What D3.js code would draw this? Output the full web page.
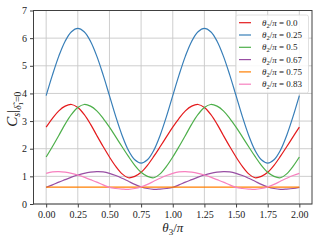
<!DOCTYPE html>
<html>
<head>
<meta charset="utf-8">
<script src="https://cdn.jsdelivr.net/npm/d3@7"></script>
<style>
  html, body { margin: 0; padding: 0; background: #fff; }
  svg { display: block; }
  text { font-family: "Liberation Serif", "DejaVu Serif", serif; }
</style>
</head>
<body>
<svg width="320" height="240"></svg>
<script>
// theta3 / pi sample points
var theta3 = [0.00,0.05,0.10,0.15,0.20,0.25,0.30,0.35,0.40,0.45,0.50,0.55,0.60,0.65,0.70,0.75,0.80,0.85,0.90,0.95,
              1.00,1.05,1.10,1.15,1.20,1.25,1.30,1.35,1.40,1.45,1.50,1.55,1.60,1.65,1.70,1.75,1.80,1.85,1.90,1.95,2.00];

// C_s for each theta2 / pi
var cs00 = [2.78,3.10,3.37,3.54,3.60,3.49,3.24,2.89,2.48,2.08,1.70,1.36,1.09,0.95,1.00,1.15,1.40,1.72,2.07,2.43,
            2.78,3.10,3.37,3.54,3.60,3.49,3.24,2.89,2.48,2.08,1.70,1.36,1.09,0.95,1.00,1.15,1.40,1.72,2.07,2.43,2.78];
var cs025 = [3.92,4.67,5.35,5.89,6.23,6.35,6.23,5.89,5.35,4.67,3.92,3.16,2.48,1.94,1.60,1.48,1.60,1.94,2.48,3.16,
             3.92,4.67,5.35,5.89,6.23,6.35,6.23,5.89,5.35,4.67,3.92,3.16,2.48,1.94,1.60,1.48,1.60,1.94,2.48,3.16,3.92];
var cs05 = [1.70,2.08,2.48,2.89,3.24,3.49,3.60,3.54,3.37,3.10,2.78,2.43,2.07,1.72,1.40,1.15,1.00,0.95,1.09,1.36,
            1.70,2.08,2.48,2.89,3.24,3.49,3.60,3.54,3.37,3.10,2.78,2.43,2.07,1.72,1.40,1.15,1.00,0.95,1.09,1.36,1.70];
var cs067 = [0.60,0.69,0.79,0.88,0.97,1.05,1.11,1.15,1.17,1.16,1.11,1.03,0.93,0.82,0.71,0.62,0.56,0.53,0.54,0.56,
             0.60,0.69,0.79,0.88,0.97,1.05,1.11,1.15,1.17,1.16,1.11,1.03,0.93,0.82,0.71,0.62,0.56,0.53,0.54,0.56,0.60];
var cs075 = [0.61,0.61,0.61,0.61,0.61,0.61,0.61,0.61,0.61,0.61,0.61,0.61,0.61,0.61,0.61,0.61,0.61,0.61,0.61,0.61,
             0.61,0.61,0.61,0.61,0.61,0.61,0.61,0.61,0.61,0.61,0.61,0.61,0.61,0.61,0.61,0.61,0.61,0.61,0.61,0.61,0.61];
var cs083 = [1.11,1.16,1.17,1.15,1.11,1.05,0.97,0.88,0.79,0.69,0.60,0.56,0.54,0.53,0.56,0.62,0.71,0.82,0.93,1.03,
             1.11,1.16,1.17,1.15,1.11,1.05,0.97,0.88,0.79,0.69,0.60,0.56,0.54,0.53,0.56,0.62,0.71,0.82,0.93,1.03,1.11];

var seriesLabels = ['0.0', '0.25', '0.5', '0.67', '0.75', '0.83'];
var seriesValues = [cs00, cs025, cs05, cs067, cs075, cs083];
var seriesColors = ['#e41a1c', '#377eb8', '#4daf4a', '#984ea3', '#ff7f00', '#f781bf'];

var xTicks = [0, 0.25, 0.5, 0.75, 1, 1.25, 1.5, 1.75, 2];
var yTicks = [0, 1, 2, 3, 4, 5, 6, 7];

var svg = d3.select('svg');
var plotLeft = 33.5, plotRight = 312, plotTop = 10.5, plotBottom = 204;

var x = d3.scaleLinear().domain([-0.1, 2.1]).range([plotLeft, plotRight]);
var y = d3.scaleLinear().domain([0, 7]).range([plotBottom, plotTop]);

// grid
svg.append('g').selectAll('line').data(xTicks).join('line')
   .attr('x1', function (d) { return x(d); }).attr('x2', function (d) { return x(d); })
   .attr('y1', plotTop).attr('y2', plotBottom)
   .attr('stroke', '#c8c8c8').attr('stroke-width', 0.9);
svg.append('g').selectAll('line').data(yTicks).join('line')
   .attr('y1', function (d) { return y(d); }).attr('y2', function (d) { return y(d); })
   .attr('x1', plotLeft).attr('x2', plotRight)
   .attr('stroke', '#c8c8c8').attr('stroke-width', 0.9);

// curves
var line = d3.line()
  .x(function (d, i) { return x(theta3[i]); })
  .y(function (d) { return y(d); })
  .curve(d3.curveCatmullRom);

svg.append('g').selectAll('path').data(seriesValues).join('path')
   .attr('d', line)
   .attr('fill', 'none')
   .attr('stroke', function (d, i) { return seriesColors[i]; })
   .attr('stroke-width', 1.2);

// frame
svg.append('rect')
   .attr('x', plotLeft).attr('y', plotTop)
   .attr('width', plotRight - plotLeft).attr('height', plotBottom - plotTop)
   .attr('fill', 'none').attr('stroke', '#404040').attr('stroke-width', 1);

// axes
var xAxis = svg.append('g').attr('transform', 'translate(0,' + plotBottom + ')')
  .call(d3.axisBottom(x).tickValues(xTicks).tickFormat(d3.format('.2f')).tickSize(3.5).tickPadding(3));
var yAxis = svg.append('g').attr('transform', 'translate(' + plotLeft + ',0)')
  .call(d3.axisLeft(y).tickValues(yTicks).tickFormat(d3.format('d')).tickSize(3.5).tickPadding(3));
[xAxis, yAxis].forEach(function (a) {
  a.select('.domain').remove();
  a.selectAll('line').attr('stroke', '#404040');
  a.selectAll('text').attr('font-family', '"Liberation Serif", serif').attr('font-size', 10).attr('fill', '#222');
});

// axis titles
var xt = svg.append('text').attr('x', (plotLeft + plotRight) / 2).attr('y', 232)
  .attr('text-anchor', 'middle').attr('font-size', 13).attr('fill', '#222');
xt.append('tspan').attr('font-style', 'italic').text('θ');
xt.append('tspan').attr('font-size', 9).attr('dy', 3).text('3');
xt.append('tspan').attr('dy', -3).text('/');
xt.append('tspan').attr('font-style', 'italic').text('π');

var yt = svg.append('text')
  .attr('transform', 'translate(17,' + ((plotTop + plotBottom) / 2 + 2) + ') rotate(-90)')
  .attr('text-anchor', 'middle').attr('font-size', 15).attr('fill', '#222');
yt.append('tspan').attr('font-style', 'italic').text('C');
yt.append('tspan').attr('font-style', 'italic').attr('font-size', 10).attr('dy', 2.5).text('s');
yt.append('tspan').attr('dy', -2.5).text('|');
yt.append('tspan').attr('font-style', 'italic').attr('font-size', 9.5).attr('dy', 4).text('δ\u0303');
yt.append('tspan').attr('font-size', 7).attr('dy', 1.5).text('1');
yt.append('tspan').attr('font-size', 9.5).attr('dy', -1.5).text('=0');

// legend
var lg = svg.append('g');
lg.append('rect')
  .attr('x', 236).attr('y', 15).attr('width', 72.5).attr('height', 78)
  .attr('rx', 2).attr('fill', '#fff').attr('fill-opacity', 0.85)
  .attr('stroke', '#d8d8d8').attr('stroke-width', 0.8);
var rows = lg.selectAll('g').data(seriesLabels).join('g')
  .attr('transform', function (d, i) { return 'translate(0,' + (22.7 + i * 12.3) + ')'; });
rows.append('line')
  .attr('x1', 239).attr('x2', 251).attr('y1', 0).attr('y2', 0)
  .attr('stroke', function (d, i) { return seriesColors[i]; }).attr('stroke-width', 1.2);
var lt = rows.append('text').attr('x', 262).attr('y', 3).attr('font-size', 9).attr('fill', '#222');
lt.append('tspan').attr('font-style', 'italic').text('θ');
lt.append('tspan').attr('font-size', 6.5).attr('dy', 2).text('2');
lt.append('tspan').attr('dy', -2).text('/');
lt.append('tspan').attr('font-style', 'italic').text('π');
lt.append('tspan').text(function (d) { return ' = ' + d; });
</script>
</body>
</html>
